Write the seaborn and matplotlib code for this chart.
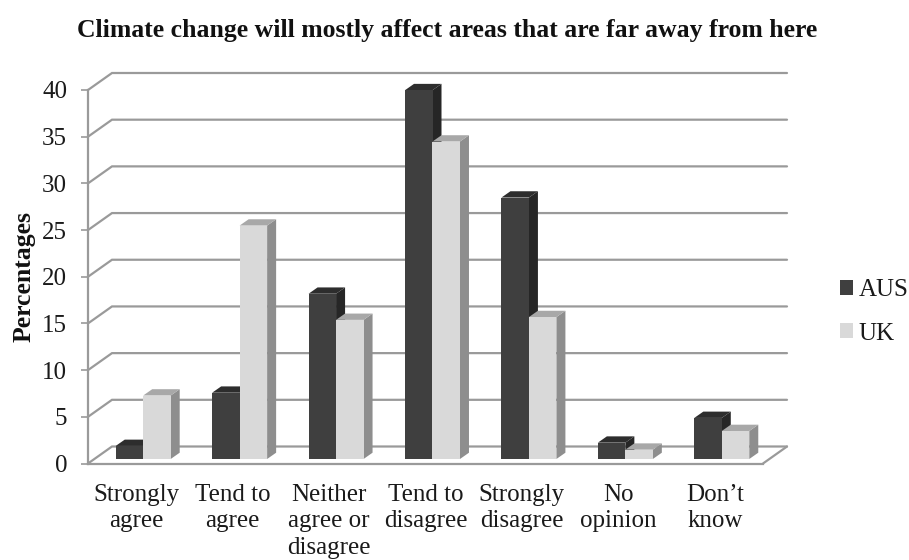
import matplotlib
matplotlib.use("Agg")
import matplotlib.pyplot as plt
from matplotlib.patches import Polygon, Patch
import pandas as pd
import seaborn as sns

categories = ["Strongly\nagree", "Tend to\nagree", "Neither\nagree or\ndisagree",
              "Tend to\ndisagree", "Strongly\ndisagree", "No\nopinion", "Don\u2019t\nknow"]
aus_values = [1.4, 7.1, 17.7, 39.5, 28.0, 1.75, 4.4]
uk_values = [6.8, 25.0, 14.9, 34.0, 15.2, 1.0, 3.0]
series_names = ["AUS", "UK"]
y_ticks = [0, 5, 10, 15, 20, 25, 30, 35, 40]

W, H = 909, 560
L, R, T, B = 88, 763, 90, 463.5
sns.set_theme(style="white")
plt.rcParams["font.family"] = ["Liberation Serif", "DejaVu Sans"]

fig = plt.figure(figsize=(W / 100, H / 100), dpi=100)
ax = fig.add_axes([L / W, 1 - B / H, (R - L) / W, (B - T) / H])

df = pd.DataFrame({
    "category": categories * 2,
    "country": [series_names[0]] * len(categories) + [series_names[1]] * len(categories),
    "value": aus_values + uk_values,
})
front = {"AUS": "#3f3f3f", "UK": "#d9d9d9"}
top = {"AUS": "#2d2d2d", "UK": "#a8a8a8"}
side = {"AUS": "#262626", "UK": "#8e8e8e"}

sns.barplot(data=df, x="category", y="value", hue="country", order=categories,
            hue_order=series_names, palette=front, width=0.57, gap=0, saturation=1,
            legend=False, ax=ax)
ax.set_xlim(-0.5, 6.5)
ax.set_ylim(0, 40)
ppx = 7 / (R - L)
ppy = 40 / (B - T)

# oblique box: gridlines and floor
gdx, gdy = 24 * ppx, 17 * ppy
grid_c = "#9a9a9a"
for v in y_ticks:
    ax.plot([-0.5, -0.5 + gdx, 6.5 + gdx], [v, v + gdy, v + gdy], color=grid_c, lw=1.6,
            clip_on=False, zorder=1, solid_joinstyle="miter")
ax.plot([6.5, 6.5 + gdx], [0, gdy], color=grid_c, lw=1.6, clip_on=False, zorder=1)

# 3-D bars
ox, oy = 7 * ppx, 4.5 * ppy
bx, by = 9 * ppx, 6.3 * ppy
for i, (container, name) in enumerate(zip(ax.containers, series_names)):
    for p in container.patches:
        p.set_x(p.get_x() + ox)
        p.set_y(oy)
        p.set_edgecolor("none")
        p.set_clip_on(False)
        p.set_zorder(3 + 2 * i)
        x0, x1 = p.get_x(), p.get_x() + p.get_width()
        y0, y1 = oy, oy + p.get_height()
        ax.add_patch(Polygon([(x1, y0), (x1 + bx, y0 + by), (x1 + bx, y1 + by), (x1, y1)],
                             facecolor=side[name], edgecolor="none", clip_on=False, zorder=2 + 2 * i))
        ax.add_patch(Polygon([(x0, y1), (x0 + bx, y1 + by), (x1 + bx, y1 + by), (x1, y1)],
                             facecolor=top[name], edgecolor="none", clip_on=False, zorder=2 + 2 * i))

for s in ["top", "right"]:
    ax.spines[s].set_visible(False)
for s in ["left", "bottom"]:
    ax.spines[s].set_color(grid_c)
    ax.spines[s].set_linewidth(1.6)
    ax.spines[s].set_zorder(8)

ax.set_yticks(y_ticks)
ax.tick_params(axis="y", length=5, width=1.2, color=grid_c, pad=10, labelsize=18, labelcolor="#1a1a1a", left=True)
ax.tick_params(axis="x", length=0, pad=14.5, labelsize=18, labelcolor="#1a1a1a")
ax.set_xticks(range(len(categories)))
ax.set_xticklabels(categories, linespacing=1.28)
ax.set_xlabel("")
ax.set_ylabel("Percentages", fontsize=18.5, fontweight="bold", color="#111111")
ax.yaxis.set_label_coords(-0.077, 0.5)

fig.text(447.5 / W, 1 - 30 / H, "Climate change will mostly affect areas that are far away from here",
         ha="center", va="center", fontsize=18.5, fontweight="bold", color="#111111")

handles = [Patch(facecolor=front[n], edgecolor="none", label=n) for n in series_names]
fig.legend(handles=handles, loc="center left", bbox_to_anchor=(840 / W, 1 - 312 / H), frameon=False,
           fontsize=18, handlelength=0.52, handleheight=0.52, handletextpad=0.22,
           labelspacing=0.85, borderpad=0, borderaxespad=0, labelcolor="#1a1a1a")

fig.savefig("out.png", dpi=100)
